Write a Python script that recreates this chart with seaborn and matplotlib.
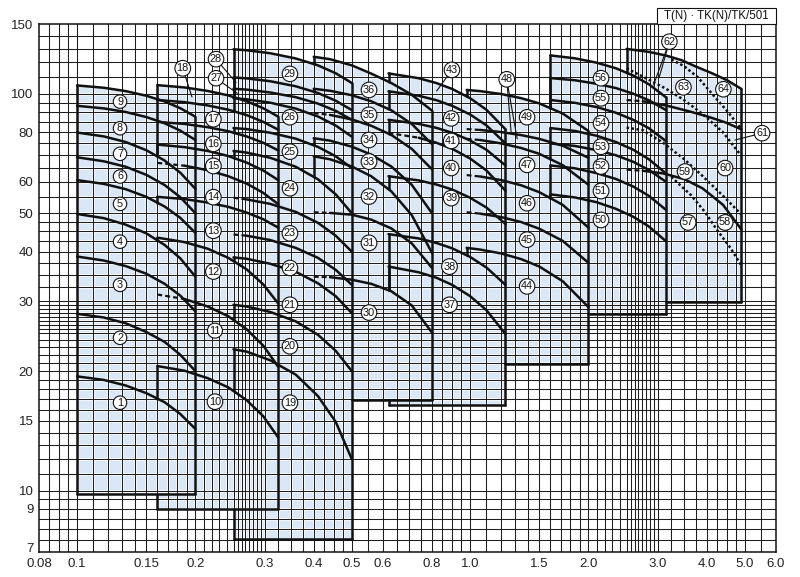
import numpy as np
import pandas as pd
import matplotlib
matplotlib.use("Agg")
import matplotlib.pyplot as plt
from matplotlib.ticker import NullLocator
from matplotlib.patches import Rectangle
from matplotlib.transforms import ScaledTranslation
import seaborn as sns

# ---------------- axis data ----------------
XTICKS = [0.08, 0.1, 0.15, 0.2, 0.3, 0.4, 0.5, 0.6, 0.8, 1.0, 1.5, 2.0, 3.0, 4.0, 5.0, 6.0]
XTICK_LABELS = ["0.08", "0.1", "0.15", "0.2", "0.3", "0.4", "0.5", "0.6", "0.8",
                "1.0", "1.5", "2.0", "3.0", "4.0", "5.0", "6.0"]
YTICKS = [7, 9, 10, 15, 20, 30, 40, 50, 60, 80, 100, 150]
YTICK_LABELS = ["7", "9", "10", "15", "20", "30", "40", "50", "60", "80", "100", "150"]

XGRID = [0.085, 0.09, 0.095, 0.1, 0.11, 0.12, 0.13, 0.14, 0.15, 0.16, 0.17, 0.18, 0.19,
         0.2, 0.21, 0.22, 0.23, 0.24, 0.25, 0.256, 0.262, 0.268, 0.274, 0.280, 0.287,
         0.293, 0.3, 0.325, 0.35, 0.375, 0.4, 0.425, 0.45, 0.475, 0.5, 0.55, 0.6, 0.65,
         0.7, 0.75, 0.8, 0.85, 0.9, 0.95, 1.0, 1.1, 1.2, 1.3, 1.4, 1.5, 1.6, 1.7, 1.8,
         1.9, 2.0, 2.1, 2.2, 2.3, 2.4, 2.5, 2.56, 2.62, 2.68, 2.74, 2.80, 2.87, 2.93,
         3.0, 3.25, 3.5, 3.75, 4.0, 4.25, 4.5, 4.75, 5.0, 5.5]
YGRID = [7.5, 8, 8.5, 9, 9.5, 10, 11, 12, 13, 14, 15, 16, 17, 18, 19, 20, 21, 22, 23,
         24, 25, 25.6, 26.2, 26.8, 27.4, 28.0, 28.7, 29.3, 30, 32.5, 35, 37.5, 40,
         42.5, 45, 47.5, 50, 55, 60, 65, 70, 75, 80, 85, 90, 95, 100, 110, 120, 130, 140]

# ---------------- pump groups (flow Q, head H per model; limits Qmin, Qmax, Hmin) ----
G1_Q = [0.1, 0.117, 0.133, 0.15, 0.167, 0.183, 0.2]
G1_ID = [1, 2, 3, 4, 5, 6, 7, 8, 9]
G1_H = [[19.4, 19.0, 18.4, 17.6, 16.7, 15.6, 14.3],
        [27.9, 27.3, 26.4, 25.1, 23.7, 22.0, 20.0],
        [38.9, 38.0, 36.8, 35.2, 33.2, 31.0, 28.3],
        [49.8, 48.6, 46.8, 44.5, 41.6, 38.5, 34.6],
        [60.6, 59.3, 57.5, 55.0, 52.0, 48.7, 44.6],
        [69.2, 67.6, 65.5, 62.5, 58.9, 54.9, 50.0],
        [79.9, 78.1, 75.6, 72.1, 67.9, 63.3, 57.6],
        [93.3, 91.9, 90.0, 87.4, 84.3, 80.8, 76.5],
        [105.0, 103.6, 101.6, 98.9, 95.7, 92.0, 87.6]]
G1_DASHED = []
G1_LIM = (0.1, 0.2, 9.8)

G2_Q = [0.16, 0.1875, 0.215, 0.2425, 0.27, 0.2975, 0.325]
G2_ID = [10, 11, 12, 13, 14, 15, 16, 17, 18]
G2_H = [[20.6, 20.05, 19.2, 18.2, 16.9, 15.4, 13.6],
        [31.2, 30.4, 29.1, 27.5, 25.5, 23.2, 20.5],
        [43.4, 42.3, 40.7, 38.6, 36.1, 33.1, 29.6],
        [55.0, 54.3, 53.2, 51.9, 50.2, 48.3, 46.0],
        [67.0, 65.9, 64.2, 62.0, 59.4, 56.3, 52.7],
        [74.5, 73.4, 71.8, 69.7, 67.1, 64.1, 60.6],
        [85.0, 84.0, 82.4, 80.5, 78.1, 75.3, 72.0],
        [96.5, 95.3, 93.5, 91.2, 88.4, 85.0, 81.2],
        [105.2, 103.8, 101.7, 99.1, 95.8, 92.0, 87.6]]
G2_DASHED = [11, 14]
G2_LIM = (0.16, 0.325, 9.0)

G3_Q = [0.25, 0.27, 0.31, 0.36, 0.41, 0.455, 0.5]
G3_ID = [19, 20, 21, 22, 23, 24, 25, 26, 27, 28, 29]
G3_H = [[22.7, 22.4, 21.3, 19.6, 17.3, 14.9, 12.0],
        [29.4, 29.1, 28.2, 26.7, 24.7, 22.5, 20.0],
        [38.7, 38.4, 37.3, 35.6, 33.3, 30.9, 28.0],
        [44.2, 43.9, 42.8, 40.9, 38.6, 36.0, 33.0],
        [54.7, 54.2, 52.8, 50.4, 47.3, 43.9, 40.0],
        [71.8, 71.1, 69.0, 65.5, 60.9, 55.8, 50.0],
        [82.0, 81.5, 79.8, 77.1, 73.5, 69.6, 65.0],
        [97.5, 96.9, 95.0, 91.8, 87.7, 83.2, 78.0],
        [103.0, 102.5, 100.8, 98.1, 94.5, 90.6, 86.0],
        [110.0, 109.4, 107.6, 104.5, 100.5, 96.1, 91.0],
        [129.5, 128.8, 126.6, 122.8, 118.0, 112.7, 106.5]]
G3_DASHED = [22, 23]
G3_LIM = (0.25, 0.5, 7.55)

G4_Q = [0.4, 0.44, 0.5, 0.56, 0.63, 0.71, 0.8]
G4_ID = [30, 31, 32, 33, 34, 35, 36]
G4_H = [[34.6, 34.5, 34.0, 33.2, 31.8, 29.3, 25.0],
        [50.3, 50.1, 49.6, 48.2, 45.8, 42.0, 36.4],
        [69.6, 68.4, 65.6, 62.0, 56.8, 49.5, 39.7],
        [77.3, 76.2, 73.6, 70.3, 65.6, 59.0, 50.0],
        [89.5, 88.5, 86.2, 83.1, 78.8, 72.7, 64.5],
        [103.0, 101.8, 99.2, 95.8, 90.9, 84.0, 74.7],
        [124.0, 122.3, 118.0, 112.5, 106.5, 99.5, 90.7]]
G4_DASHED = [30, 31, 34]
G4_LIM = (0.4, 0.8, 16.9)

G5_Q = [0.62, 0.74, 0.82, 0.9, 1.0, 1.1, 1.23]
G5_ID = [37, 38, 39, 40, 41, 42, 43]
G5_H = [[36.7, 35.5, 34.4, 33.0, 30.9, 28.5, 24.8],
        [44.3, 43.2, 42.1, 40.8, 38.8, 36.5, 33.0],
        [62.0, 60.5, 59.1, 57.4, 54.7, 51.7, 47.0],
        [79.7, 77.5, 75.3, 72.7, 68.7, 64.1, 57.0],
        [86.0, 84.0, 82.1, 79.8, 76.3, 72.3, 66.0],
        [101.5, 98.9, 96.4, 93.3, 88.7, 83.3, 75.0],
        [112.6, 109.5, 106.5, 102.9, 97.5, 91.2, 81.4]]
G5_DASHED = [40]
G5_LIM = (0.62, 1.23, 16.4)

G6_Q = [0.98, 1.06, 1.2, 1.35, 1.5, 1.72, 2.0]
G6_ID = [44, 45, 46, 47, 48, 49]
G6_H = [[40.9, 40.5, 39.6, 38.3, 36.7, 33.7, 29.0],
        [50.3, 49.9, 48.9, 47.5, 45.7, 42.6, 37.5],
        [62.4, 61.9, 60.6, 58.8, 56.5, 52.5, 46.0],
        [77.0, 76.5, 75.0, 73.0, 70.6, 66.1, 59.0],
        [81.5, 81.1, 80.1, 78.7, 77.0, 74.0, 69.0],
        [102.3, 101.6, 99.9, 97.5, 94.6, 89.2, 80.6]]
G6_DASHED = [45, 46, 47, 48]
G6_LIM = (0.98, 2.0, 20.8)

G7_Q = [1.6, 1.85, 2.1, 2.35, 2.6, 2.85, 3.15]
G7_ID = [50, 51, 52, 53, 54, 55, 56]
G7_H = [[55.8, 54.8, 53.3, 51.3, 49.0, 46.3, 42.5],
        [66.0, 64.9, 63.1, 61.0, 58.4, 55.3, 51.0],
        [75.0, 73.9, 72.1, 70.0, 67.4, 64.3, 60.0],
        [82.0, 80.6, 78.4, 75.6, 72.3, 68.4, 63.0],
        [96.5, 94.9, 92.6, 89.6, 86.0, 81.9, 76.0],
        [109.6, 108.2, 106.0, 103.4, 100.1, 96.3, 91.0],
        [125.0, 122.9, 119.8, 116.0, 111.2, 105.7, 98.0]]
G7_DASHED = []
G7_LIM = (1.6, 3.15, 27.8)

# group 8 (models 57-64)
G8_TOP_Q = [2.5, 2.85, 3.15, 3.45, 3.75, 4.1, 4.5, 4.9]
G8_TOP_H = [129.8, 127.6, 124.9, 121.6, 117.2, 113.0, 108.3, 102.9]
G8_B_Q = [2.5, 2.75, 3.15, 3.6, 4.0, 4.45, 4.9]
G8_B_H = [96.5, 95.8, 93.5, 90.4, 87.8, 84.8, 81.4]
G8_E_Q = [2.5, 2.75, 3.1, 3.5, 3.9, 4.4, 4.9]
G8_E_H = [64.4, 64.0, 63.0, 61.0, 57.8, 52.5, 45.5]
G8_C_Q = [3.25, 3.5, 3.8, 4.2, 4.55, 4.9]
G8_C_H = [122.0, 117.5, 110.0, 98.0, 89.5, 81.4]
G8_A_Q = [2.5, 2.8, 3.15, 3.5, 3.9, 4.4, 4.9]
G8_A_H = [116.0, 109.5, 103.0, 96.5, 89.0, 80.0, 69.7]
G8_D_Q = [2.5, 2.75, 3.1, 3.5, 3.9, 4.46, 4.9]
G8_D_H = [82.2, 81.0, 75.2, 68.5, 62.1, 54.6, 49.6]
G8_F_Q = [3.25, 3.42, 3.65, 3.95, 4.24, 4.6, 4.9]
G8_F_H = [61.8, 58.9, 55.5, 50.5, 45.5, 40.8, 36.9]
G8_LIM = (2.5, 4.9, 29.9)

# circled model numbers
LABEL_ID = list(range(1, 65))
LABEL_Q = ([0.1286] * 9
           + [0.2243, 0.2243, 0.2222, 0.2222, 0.2222, 0.2222, 0.2222, 0.2222, 0.1857]
           + [0.348] * 8 + [0.2257, 0.2257, 0.348]
           + [0.553] * 7
           + [0.886, 0.886, 0.895, 0.895, 0.895, 0.895, 0.899]
           + [1.396, 1.396, 1.396, 1.396, 1.239, 1.396]
           + [2.153] * 7
           + [3.586, 4.453, 3.523, 4.453, 5.53, 3.213, 3.488, 4.408])
LABEL_H = [16.65, 24.27, 33.0, 42.4, 52.8, 61.9, 70.6, 81.9, 95.6,
           16.75, 25.3, 35.65, 45.2, 54.9, 65.8, 74.8, 86.3, 116.0,
           16.65, 23.1, 29.4, 36.4, 44.5, 57.8, 71.5, 87.3, 109.5, 122.3, 112.3,
           28.1, 42.1, 55.1, 67.5, 76.5, 88.5, 102.3,
           29.4, 36.7, 54.6, 65.0, 76.1, 86.7, 114.9,
           32.7, 42.9, 53.0, 66.2, 108.8, 87.3,
           48.1, 56.9, 65.6, 73.6, 84.3, 97.5, 109.5,
           47.4, 47.4, 63.7, 65.0, 79.6, 135.4, 103.9, 102.7]

LEADER_ID = [18, 28, 27, 43, 48, 48, 62, 62, 61]
LEADER_Q = [0.196, 0.2537, 0.2556, 0.822, 1.271, 1.317, 2.928, 3.024, 4.72]
LEADER_H = [98.2, 106.8, 100.3, 101.7, 80.2, 77.0, 105.3, 109.7, 76.5]

TITLE = "T(N) \u00b7 TK(N)/TK/501"

# ---------------- styling ----------------
sns.set_theme(style="white")
plt.rcParams["font.family"] = ["Liberation Sans", "DejaVu Sans"]
FILL = "#d9e7f6"
INK = "#111111"
CURVE_LW = 1.8
DASH = (0, (2.2, 1.4))

fig = plt.figure(figsize=(8.0, 5.77), dpi=100)
ax = fig.add_axes([39 / 800, 1 - 552 / 577, (776 - 39) / 800, (552 - 24) / 577])
ax.set_xscale("log")
ax.set_yscale("log")
ax.set_xlim(0.08, 6.0)
ax.set_ylim(7, 150)


def line(q, h, ls="-", lw=CURVE_LW, z=4):
    sns.lineplot(x=q, y=h, ax=ax, color=INK, lw=lw, linestyle=ls,
                 estimator=None, sort=False, legend=False, zorder=z)


def loginterp(x, xs, ys):
    return float(np.exp(np.interp(np.log(x), np.log(xs), np.log(ys))))


groups = [
    (G1_Q, G1_ID, G1_H, G1_DASHED, G1_LIM),
    (G2_Q, G2_ID, G2_H, G2_DASHED, G2_LIM),
    (G3_Q, G3_ID, G3_H, G3_DASHED, G3_LIM),
    (G4_Q, G4_ID, G4_H, G4_DASHED, G4_LIM),
    (G5_Q, G5_ID, G5_H, G5_DASHED, G5_LIM),
    (G6_Q, G6_ID, G6_H, G6_DASHED, G6_LIM),
    (G7_Q, G7_ID, G7_H, G7_DASHED, G7_LIM),
]
tops = [(g[0], g[2][-1], g[4]) for g in groups] + [(G8_TOP_Q, G8_TOP_H, G8_LIM)]

for q, htop, (ql, qr, hb) in tops:
    ax.fill_between(q, hb, htop, color=FILL, lw=0, zorder=1)

for xv in XGRID:
    ax.axvline(xv, color="white", lw=1.9, zorder=2)
for yv in YGRID:
    ax.axhline(yv, color="white", lw=1.9, zorder=2)
for xv in XGRID:
    ax.axvline(xv, color="#1e1e1e", lw=0.75, zorder=3)
for yv in YGRID:
    ax.axhline(yv, color="#1e1e1e", lw=0.75, zorder=3)


def curves_below(k, x, h):
    best = None
    for j in range(k):
        qj, ids, hs, dashed, (lj, rj, bj) = groups[j]
        if lj <= x <= rj:
            cand = [loginterp(x, qj, hh) for hh in hs] + [bj]
            cand = [c for c in cand if c < h - 0.5]
            if cand:
                m = max(cand)
                best = m if best is None else max(best, m)
    return best


for k, (q, htop, (ql, qr, hb)) in enumerate(tops):
    line(q, htop)
    line([qr, qr], [htop[-1], hb])
    cover_top, cover_bot, cover_end = None, None, None
    for j in range(k):
        qj, hj, (lj, rj, bj) = tops[j]
        if lj <= ql <= rj:
            t = loginterp(ql, qj, hj)
            cover_top = t if cover_top is None else max(cover_top, t)
            cover_bot = bj if cover_bot is None else min(cover_bot, bj)
            cover_end = rj if cover_end is None else max(cover_end, rj)
    if cover_top is None:
        line([ql, ql], [hb, htop[0]])
        line([ql, qr], [hb, hb])
    else:
        line([ql, ql], [max(cover_top, hb), htop[0]])
        if hb < cover_bot:
            line([ql, ql], [hb, cover_bot])
            line([ql, qr], [hb, hb])
        else:
            line([cover_end, qr], [hb, hb])

for k, (q, ids, hs, dashed, lim) in enumerate(groups):
    for mid, h in zip(ids[:-1], hs[:-1]):
        if mid in dashed:
            line(q[:2], h[:2], ls=DASH, lw=1.6)
            line(q[1:], h[1:])
        else:
            line(q, h)
            if k > 0:
                low = curves_below(k, q[0], h[0])
                if low is not None:
                    line([q[0], q[0]], [low, h[0]])

line(G8_B_Q[:2], G8_B_H[:2], ls=DASH, lw=1.6)
line(G8_B_Q[1:], G8_B_H[1:])
line(G8_E_Q[:2], G8_E_H[:2], ls=DASH, lw=1.6)
line(G8_E_Q[1:], G8_E_H[1:])
for qd, hd in [(G8_C_Q, G8_C_H), (G8_A_Q, G8_A_H), (G8_D_Q, G8_D_H), (G8_F_Q, G8_F_H)]:
    line(qd, hd, ls=(0, (1.0, 1.0)), lw=1.8)

for lid, lq, lh in zip(LEADER_ID, LEADER_Q, LEADER_H):
    i = LABEL_ID.index(lid)
    ax.plot([LABEL_Q[i], lq], [LABEL_H[i], lh], color=INK, lw=0.8, zorder=5)

for lid, lq, lh in zip(LABEL_ID, LABEL_Q, LABEL_H):
    ax.text(lq, lh, str(lid), ha="center", va="center", fontsize=7.8, color=INK, zorder=7,
            bbox=dict(boxstyle="circle,pad=0.16", fc="white", ec=INK, lw=0.8))

ax.xaxis.set_minor_locator(NullLocator())
ax.yaxis.set_minor_locator(NullLocator())
ax.set_xticks(XTICKS)
ax.set_xticklabels(XTICK_LABELS)
ax.set_yticks(YTICKS)
ax.set_yticklabels(YTICK_LABELS)
ax.tick_params(length=0, labelsize=9.5, colors="#222222", pad=4)
lab7 = ax.get_yticklabels()[0]
lab7.set_transform(lab7.get_transform() + ScaledTranslation(0, 5 / 100, fig.dpi_scale_trans))
ax.grid(False)
for s in ax.spines.values():
    s.set_color(INK)
    s.set_linewidth(1.1)
    s.set_zorder(6)
ax.set_xlabel("")
ax.set_ylabel("")

fig.patches.append(Rectangle((657 / 800, 1 - 24 / 577), (776 - 657) / 800, 16 / 577,
                             transform=fig.transFigure, fc="white", ec=INK, lw=0.8))
fig.text((657 + 776) / 2 / 800, 1 - 16 / 577, TITLE, ha="center", va="center",
         fontsize=8.3, color=INK)

fig.savefig("out.png", dpi=100)
